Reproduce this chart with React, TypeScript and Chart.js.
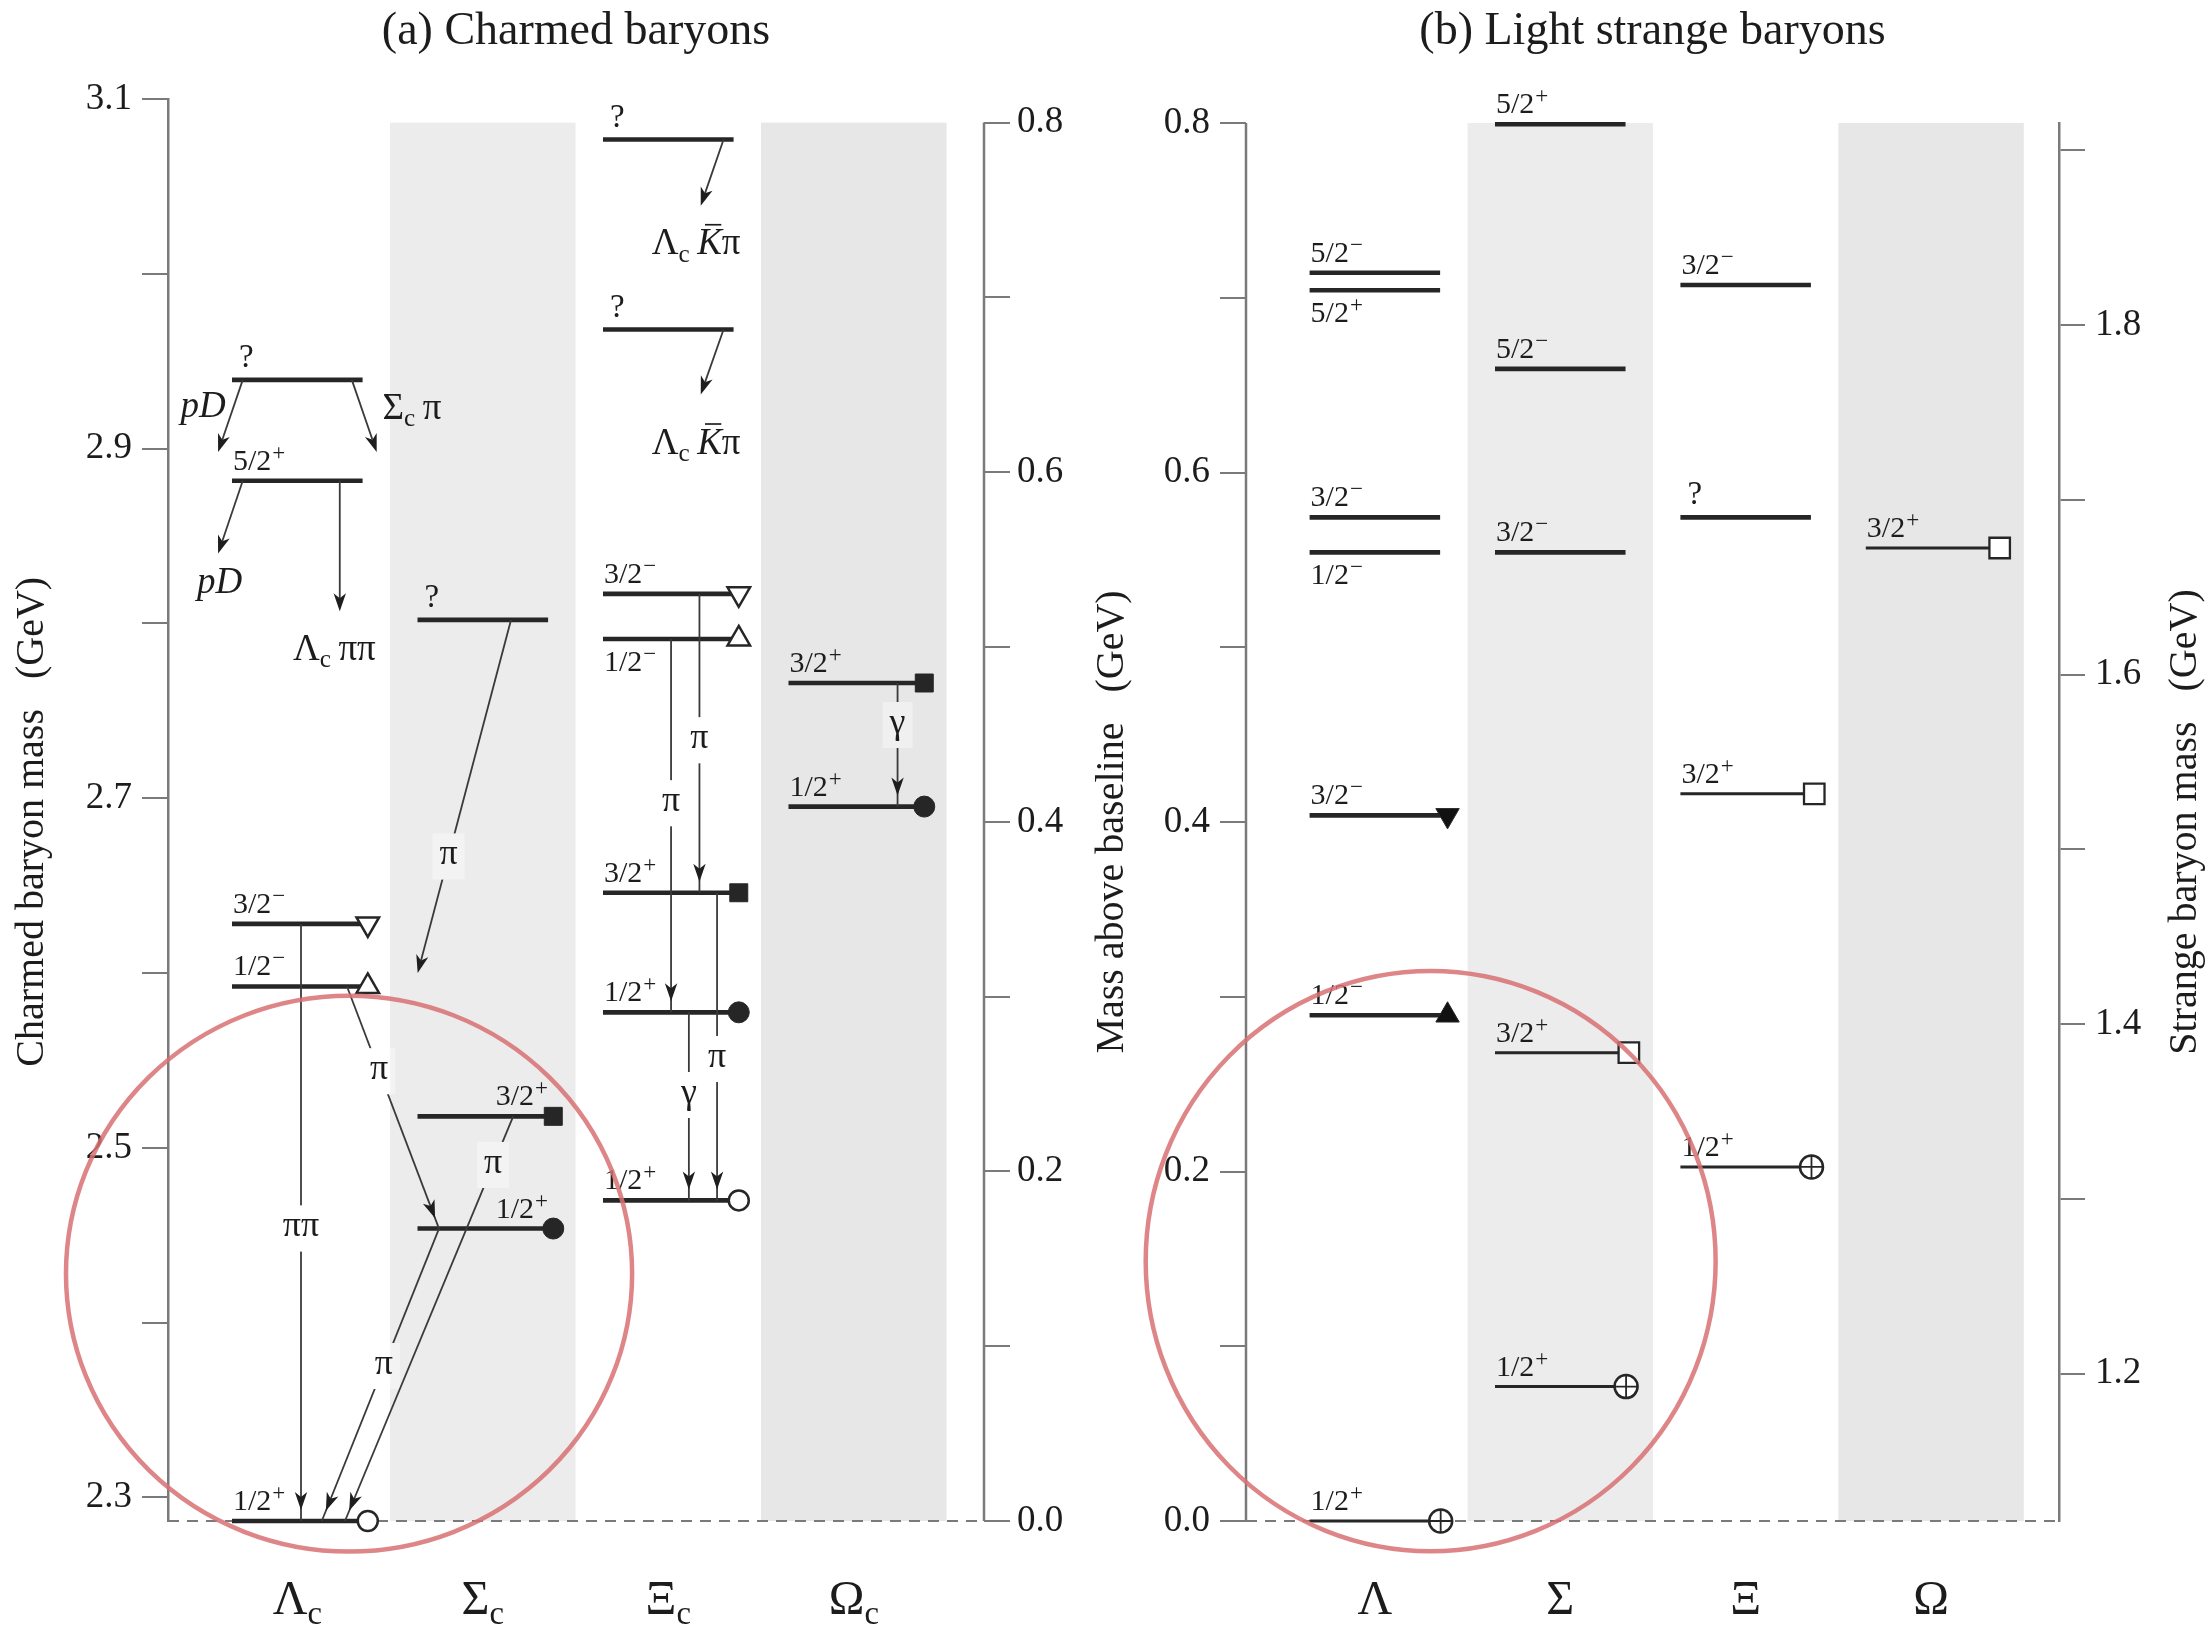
import React, { useEffect, useRef } from 'react';
import { Chart, registerables } from 'chart.js';

Chart.register(...registerables);

/* ================= DATA ================= */

// shared "mass above baseline" axis
const aboveTicks = [0, 0.1, 0.2, 0.3, 0.4, 0.5, 0.6, 0.7, 0.8];
const aboveTickLabels = ['0.0', '', '0.2', '', '0.4', '', '0.6', '', '0.8'];
const aboveAxisTitle = 'Mass above baseline';

// (a) Charmed baryons
const charmTitle = '(a) Charmed baryons';
const charmAxisTitle = 'Charmed baryon mass';
const charmCategories = ['Λ_c', 'Σ_c', 'Ξ_c', 'Ω_c'];
const charmBaseline = 2.2865; // GeV (Λc)
const charmMassTop = 3.1;
const charmMassTicks = [2.3, 2.4, 2.5, 2.6, 2.7, 2.8, 2.9, 3.0, 3.1];
const charmMassTickLabels = ['2.3', '', '2.5', '', '2.7', '', '2.9', '', '3.1'];

const charmLevelColumn = [0, 0, 0, 0, 0, 1, 1, 1, 2, 2, 2, 2, 2, 2, 2, 3, 3];
const charmLevelMass = [2.2865, 2.5923, 2.6281, 2.8816, 2.9393, 2.4538, 2.518, 2.802, 2.4699, 2.5775, 2.6459, 2.7911, 2.8169, 2.9681, 3.0768, 2.6952, 2.7659];
const charmLevelJP = ['1/2+', '1/2−', '3/2−', '5/2+', '?', '1/2+', '3/2+', '?', '1/2+', '1/2+', '3/2+', '1/2−', '3/2−', '?', '?', '1/2+', '3/2+'];
const charmLevelMarker = ['openCircle', 'openTriUp', 'openTriDown', '', '', 'filledCircle', 'filledSquare', '', 'openCircle', 'filledCircle', 'filledSquare', 'openTriUp', 'openTriDown', '', '', 'filledCircle', 'filledSquare'];

// decays: [column units, GeV]
const charmDecayFrom = [[0.206, 2.9393], [0.794, 2.9393], [0.206, 2.8816], [0.729, 2.8816], [2.798, 3.0768], [2.798, 2.9681], [1.652, 2.802], [0.52, 2.6281], [0.768, 2.5923], [1.264, 2.4538], [1.664, 2.518], [2.668, 2.8169], [2.515, 2.7911], [2.763, 2.6459], [2.611, 2.5775], [3.736, 2.7659]];
const charmDecayTo = [[0.073, 2.898], [0.928, 2.898], [0.073, 2.84], [0.729, 2.807], [2.675, 3.039], [2.675, 2.931], [1.149, 2.6], [0.52, 2.2865], [1.264, 2.4538], [0.632, 2.2865], [0.757, 2.2865], [2.668, 2.6459], [2.515, 2.5775], [2.763, 2.4699], [2.611, 2.4699], [3.736, 2.6952]];
const charmDecayLabel = ['', '', '', '', '', '', 'π', 'ππ', 'π', 'π', 'π', 'π', 'π', 'π', 'γ', 'γ'];
const charmDecayLabelPos = [0, 0, 0, 0, 0, 0, 0.67, 0.51, 0.35, 0.47, 0.12, 0.49, 0.44, 0.54, 0.44, 0.34];
const charmProductText = ['*pD*', 'Σ_c π', '*pD*', 'Λ_c ππ', 'Λ_c ‾Kπ', 'Λ_c ‾Kπ'];
const charmProductAt = [[-0.008, 2.925], [1.118, 2.924], [0.081, 2.824], [0.7, 2.786], [2.65, 3.018], [2.65, 2.904]];
const charmHighlightCenter = [0.779, 2.428];
const charmHighlightRadius = [1.526, 0.159];

// (b) Light strange baryons
const strangeTitle = '(b) Light strange baryons';
const strangeAxisTitle = 'Strange baryon mass';
const strangeCategories = ['Λ', 'Σ', 'Ξ', 'Ω'];
const strangeBaseline = 1.1157; // GeV (Λ)
const strangeMassTicks = [1.2, 1.3, 1.4, 1.5, 1.6, 1.7, 1.8, 1.9];
const strangeMassTickLabels = ['1.2', '', '1.4', '', '1.6', '', '1.8', ''];

const strangeLevelColumn = [0, 0, 0, 0, 0, 0, 0, 1, 1, 1, 1, 1, 2, 2, 2, 2, 3];
const strangeLevelMass = [1.1157, 1.4051, 1.5195, 1.67, 1.69, 1.82, 1.83, 1.1926, 1.3837, 1.67, 1.775, 1.915, 1.3183, 1.5318, 1.69, 1.823, 1.6725];
const strangeLevelJP = ['1/2+', '1/2−', '3/2−', '1/2−', '3/2−', '5/2+', '5/2−', '1/2+', '3/2+', '3/2−', '5/2−', '5/2+', '1/2+', '3/2+', '?', '3/2−', '3/2+'];
const strangeLevelMarker = ['crossCircle', 'filledTriUp', 'filledTriDown', '', '', '', '', 'crossCircle', 'openSquare', '', '', '', 'crossCircle', 'openSquare', '', '', 'openSquare'];
const strangeHighlightCenter = [0.801, 1.2644];
const strangeHighlightRadius = [1.537, 0.166];

/* ================= STYLE / LAYOUT ================= */

const SERIF = "'Liberation Serif', 'Times New Roman', Times, serif";
const TEXT = '#1c1c1c';
const AXIS = '#7a7a7a';
const LEVEL = '#262626';
const ARROW = '#3a3a3a';
const BAND_COLORS = ['#ececec', '#e7e7e7'];
const BAND_COLUMNS = [1, 3];
const LINE_START = 0.148;
const LINE_END = 0.852;
const CAT_BASELINE = 1614;
const TITLE_BASELINE = 44;

const MARKER_OFFSET: any = {
  openCircle: 0.88, filledCircle: 0.88, filledSquare: 0.88, openTriUp: 0.88, openTriDown: 0.88,
  filledTriUp: 0.892, filledTriDown: 0.892, openSquare: 0.87, crossCircle: 0.855,
};
const THIN_LEVEL = ['openSquare', 'crossCircle'];
const MARKER_STYLES: any = {
  openCircle: [{ style: 'circle', r: 10, bg: '#ffffff', bw: 2.5, rot: 0 }],
  filledCircle: [{ style: 'circle', r: 10.5, bg: LEVEL, bw: 1, rot: 0 }],
  filledSquare: [{ style: 'rect', r: 12.7, bg: LEVEL, bw: 1, rot: 0 }],
  openTriUp: [{ style: 'triangle', r: 13, bg: '#ffffff', bw: 2.5, rot: 0 }],
  openTriDown: [{ style: 'triangle', r: 13, bg: '#ffffff', bw: 2.5, rot: 180 }],
  filledTriUp: [{ style: 'triangle', r: 13.5, bg: '#111111', bw: 1, rot: 0 }],
  filledTriDown: [{ style: 'triangle', r: 13.5, bg: '#111111', bw: 1, rot: 180 }],
  openSquare: [{ style: 'rect', r: 14.5, bg: '#ffffff', bw: 2.3, rot: 0 }],
  crossCircle: [
    { style: 'circle', r: 11.5, bg: '#ffffff', bw: 2.5, rot: 0 },
    { style: 'cross', r: 11.5, bg: '#ffffff', bw: 1.8, rot: 0 },
  ],
};

const fontStr = (size: number, italic = false) => `${italic ? 'italic ' : ''}${size}px ${SERIF}`;

/* ================= TEXT HELPERS ================= */

function parseRich(s: string) {
  const runs: any[] = [];
  let italic = false;
  for (let i = 0; i < s.length; i++) {
    const ch = s[i];
    if (ch === '*') { italic = !italic; continue; }
    if (ch === '_') { runs.push({ t: s[++i], it: italic, sub: true }); continue; }
    if (ch === '‾') { runs.push({ t: s[++i], it: true, bar: true }); continue; }
    if (ch === ' ') { runs.push({ t: ' ', space: true }); continue; }
    runs.push({ t: ch, it: italic });
  }
  return runs;
}

function drawRich(ctx: CanvasRenderingContext2D, markup: string, x: number, baseline: number, size: number, align: string) {
  const runs = parseRich(markup);
  const subSize = size * 0.68;
  let total = 0;
  const widths = runs.map((r) => {
    let w = 0;
    if (r.space) w = size * 0.2;
    else { ctx.font = fontStr(r.sub ? subSize : size, r.it); w = ctx.measureText(r.t).width; }
    total += w;
    return w;
  });
  let cx = align === 'center' ? x - total / 2 : align === 'right' ? x - total : x;
  ctx.textAlign = 'left';
  ctx.textBaseline = 'alphabetic';
  ctx.fillStyle = TEXT;
  runs.forEach((r, k) => {
    if (!r.space) {
      ctx.font = fontStr(r.sub ? subSize : size, r.it);
      const by = r.sub ? baseline + size * 0.2 : baseline;
      ctx.fillText(r.t, cx, by);
      if (r.bar) {
        ctx.strokeStyle = TEXT;
        ctx.lineWidth = Math.max(1.5, size * 0.045);
        const yb = baseline - size * 0.8;
        ctx.beginPath();
        ctx.moveTo(cx + widths[k] * 0.32, yb);
        ctx.lineTo(cx + widths[k] * 0.98, yb);
        ctx.stroke();
      }
    }
    cx += widths[k];
  });
}

function drawJP(ctx: CanvasRenderingContext2D, jp: string, x: number, yLine: number, align: string, below: boolean) {
  const size = 30;
  const supSize = 23;
  ctx.textAlign = 'left';
  ctx.textBaseline = 'alphabetic';
  ctx.fillStyle = TEXT;
  if (jp === '?') {
    ctx.font = fontStr(33);
    const w = ctx.measureText('?').width;
    const x0 = align === 'left' ? x + 7 : x - w;
    ctx.fillText('?', x0, below ? yLine + 34 : yLine - 13);
    return;
  }
  let main = jp;
  let sign = '';
  const last = jp.slice(-1);
  if (last === '+' || last === '−') { main = jp.slice(0, -1); sign = last; }
  ctx.font = fontStr(size);
  const w1 = ctx.measureText(main).width;
  ctx.font = fontStr(supSize);
  const w2 = sign ? ctx.measureText(sign).width + 1 : 0;
  const x0 = align === 'left' ? x + 1 : x - (w1 + w2);
  const baseline = below ? yLine + 32 : yLine - 11;
  ctx.font = fontStr(size);
  ctx.fillText(main, x0, baseline);
  if (sign) {
    ctx.font = fontStr(supSize);
    ctx.fillText(sign, x0 + w1 + 1, baseline - 10);
  }
}

/* ================= PANEL BUILDER ================= */

function decoPlugin(s: any) {
  return {
    id: 'panelDeco',
    beforeDatasetsDraw(chart: any) {
      const { ctx, chartArea: a } = chart;
      const xs = chart.scales.x;
      const ya = chart.scales.yAbove;
      ctx.save();
      BAND_COLUMNS.forEach((c, k) => {
        const x0 = xs.getPixelForValue(c);
        const x1 = xs.getPixelForValue(c + 1);
        const yT = ya.getPixelForValue(0.8);
        const yB = ya.getPixelForValue(0);
        ctx.fillStyle = BAND_COLORS[k];
        ctx.fillRect(x0, yT, x1 - x0, yB - yT);
      });
      const yb = ya.getPixelForValue(0);
      ctx.strokeStyle = AXIS;
      ctx.lineWidth = 2.2;
      ctx.setLineDash([11, 8]);
      ctx.beginPath();
      ctx.moveTo(a.left, yb);
      ctx.lineTo(a.right, yb);
      ctx.stroke();
      ctx.setLineDash([]);
      const xa = s.massSide === 'left' ? a.right : a.left;
      ctx.lineWidth = 2.5;
      ctx.beginPath();
      ctx.moveTo(xa, ya.getPixelForValue(0));
      ctx.lineTo(xa, ya.getPixelForValue(0.8));
      ctx.stroke();
      ctx.restore();
    },
    afterDatasetsDraw(chart: any) {
      const { ctx, chartArea: a } = chart;
      const xs = chart.scales.x;
      const ym = chart.scales.yMass;
      const ya = chart.scales.yAbove;
      ctx.save();

      // decay arrows
      (s.decayFrom || []).forEach((f: number[], i: number) => {
        const t = s.decayTo[i];
        const x0 = xs.getPixelForValue(f[0]);
        const y0 = ym.getPixelForValue(f[1]);
        const x1 = xs.getPixelForValue(t[0]);
        const y1 = ym.getPixelForValue(t[1]);
        const dx = x1 - x0;
        const dy = y1 - y0;
        const len = Math.hypot(dx, dy);
        const ux = dx / len;
        const uy = dy / len;
        const onLevel = s.levelMass.some((m: number) => Math.abs(m - t[1]) < 1e-4);
        const back = onLevel ? 11 : 0;
        const tipX = x1 - ux * back;
        const tipY = y1 - uy * back;
        const L = 18, W = 6.2, N = 5;
        const label = s.decayLabel[i];
        let box: any = null;
        if (label) {
          const p = s.decayLabelPos[i];
          const lx = x0 + dx * p;
          const ly = y0 + dy * p;
          ctx.font = fontStr(36);
          const w = ctx.measureText(label).width + 14;
          box = { x: lx - w / 2, y: ly - 23, w, h: 46, lx, ly };
        }
        ctx.save();
        if (box) {
          ctx.beginPath();
          ctx.rect(0, 0, chart.width, chart.height);
          ctx.rect(box.x, box.y, box.w, box.h);
          ctx.clip('evenodd');
        }
        ctx.strokeStyle = ARROW;
        ctx.lineWidth = 1.8;
        ctx.beginPath();
        ctx.moveTo(x0, y0);
        if (onLevel) ctx.lineTo(x1, y1);
        else ctx.lineTo(tipX - ux * (L - N), tipY - uy * (L - N));
        ctx.stroke();
        ctx.fillStyle = '#1e1e1e';
        ctx.beginPath();
        ctx.moveTo(tipX, tipY);
        ctx.lineTo(tipX - L * ux + W * uy, tipY - L * uy - W * ux);
        ctx.lineTo(tipX - (L - N) * ux, tipY - (L - N) * uy);
        ctx.lineTo(tipX - L * ux - W * uy, tipY - L * uy + W * ux);
        ctx.closePath();
        ctx.fill();
        ctx.restore();
        if (box) {
          ctx.fillStyle = 'rgba(255,255,255,0.4)';
          ctx.fillRect(box.x, box.y, box.w, box.h);
          ctx.fillStyle = TEXT;
          ctx.font = fontStr(36);
          ctx.textAlign = 'center';
          ctx.textBaseline = 'alphabetic';
          ctx.fillText(label, box.lx, box.ly + 8);
        }
      });

      // J^P labels
      s.levelMass.forEach((m: number, i: number) => {
        const col = s.levelColumn[i];
        const y = ym.getPixelForValue(m);
        const right = s.labelRight.includes(i);
        const below = s.labelBelow.includes(i);
        const x = right ? xs.getPixelForValue(col + LINE_END) : xs.getPixelForValue(col + LINE_START);
        drawJP(ctx, s.levelJP[i], x, y, right ? 'right' : 'left', below);
      });

      // decay products
      (s.productText || []).forEach((txt: string, i: number) => {
        const p = s.productAt[i];
        drawRich(ctx, txt, xs.getPixelForValue(p[0]), ym.getPixelForValue(p[1]) + 12, 37, 'center');
      });

      // category labels
      s.categories.forEach((c: string, i: number) => {
        drawRich(ctx, c, xs.getPixelForValue(i + 0.5), CAT_BASELINE, 48, 'center');
      });

      // title
      ctx.fillStyle = TEXT;
      ctx.font = fontStr(46);
      ctx.textAlign = 'center';
      ctx.textBaseline = 'alphabetic';
      ctx.fillText(s.title, (a.left + a.right) / 2, TITLE_BASELINE);

      // axis titles
      const yMid = ya.getPixelForValue(0.4);
      const drawRot = (text: string, x: number) => {
        ctx.save();
        ctx.translate(x, yMid);
        ctx.rotate(-Math.PI / 2);
        ctx.font = fontStr(40);
        ctx.fillStyle = TEXT;
        ctx.textAlign = 'center';
        ctx.textBaseline = 'middle';
        ctx.fillText(text + '   (GeV)', 0, 0);
        ctx.restore();
      };
      drawRot(s.massTitle, s.massTitleX);
      if (s.aboveTitle) drawRot(s.aboveTitle, s.aboveTitleX);

      // hand-drawn highlight ellipse
      const c = s.highlightCenter;
      const r = s.highlightRadius;
      const cx = xs.getPixelForValue(c[0]);
      const cy = ym.getPixelForValue(c[1]);
      const rx = Math.abs(xs.getPixelForValue(c[0] + r[0]) - cx);
      const ry = Math.abs(ym.getPixelForValue(c[1] + r[1]) - cy);
      ctx.strokeStyle = 'rgba(216,112,114,0.85)';
      ctx.lineWidth = 4.5;
      ctx.beginPath();
      ctx.ellipse(cx, cy, rx, ry, 0, 0, Math.PI * 2);
      ctx.stroke();

      ctx.restore();
    },
  };
}

function buildPanel(canvas: HTMLCanvasElement, s: any) {
  const datasets: any[] = [];
  s.levelMass.forEach((m: number, i: number) => {
    const col = s.levelColumn[i];
    const mk = s.levelMarker[i];
    const x0 = col + LINE_START;
    const x1 = mk ? col + MARKER_OFFSET[mk] : col + LINE_END;
    datasets.push({
      data: [{ x: x0, y: m }, { x: x1, y: m }],
      borderColor: LEVEL,
      borderWidth: THIN_LEVEL.includes(mk) ? 3 : 4.6,
      borderCapStyle: 'butt',
      pointRadius: 0,
      fill: false,
      tension: 0,
      yAxisID: 'yMass',
      xAxisID: 'x',
      clip: false,
      order: 5,
    });
  });
  const types = Array.from(new Set(s.levelMarker.filter((t: string) => !!t))) as string[];
  types.forEach((t) => {
    const pts = s.levelMass
      .map((m: number, i: number) => (s.levelMarker[i] === t ? { x: s.levelColumn[i] + MARKER_OFFSET[t], y: m } : null))
      .filter((p: any) => p);
    MARKER_STYLES[t].forEach((st: any, k: number) => {
      datasets.push({
        data: pts,
        showLine: false,
        yAxisID: 'yMass',
        xAxisID: 'x',
        clip: false,
        order: 2 - k,
        pointStyle: st.style,
        pointRadius: st.r,
        pointHoverRadius: st.r,
        pointBackgroundColor: st.bg,
        pointBorderColor: LEVEL,
        pointBorderWidth: st.bw,
        pointRotation: st.rot,
      });
    });
  });

  const tickFont = { family: SERIF, size: 37 };
  const massScale = {
    type: 'linear',
    position: s.massSide,
    min: s.baseline,
    max: s.massTop,
    afterBuildTicks: (ax: any) => { ax.ticks = s.massTicks.map((v: number) => ({ value: v })); },
    afterFit: (ax: any) => { ax.width = s.massSide === 'left' ? s.area.left : s.canvasWidth - s.area.right; },
    ticks: { callback: (_v: any, i: number) => s.massTickLabels[i], font: tickFont, color: TEXT, padding: 10, autoSkip: false, maxRotation: 0 },
    grid: { drawOnChartArea: false, drawTicks: true, tickLength: 26, color: AXIS, lineWidth: 2 },
    border: { display: true, color: AXIS, width: 2.5 },
  };
  const aboveSide = s.massSide === 'left' ? 'right' : 'left';
  const aboveScale = {
    type: 'linear',
    position: aboveSide,
    min: 0,
    max: s.massTop - s.baseline,
    afterBuildTicks: (ax: any) => { ax.ticks = aboveTicks.map((v) => ({ value: v })); },
    afterFit: (ax: any) => { ax.width = aboveSide === 'left' ? s.area.left : s.canvasWidth - s.area.right; },
    ticks: { callback: (_v: any, i: number) => aboveTickLabels[i], font: tickFont, color: TEXT, padding: aboveSide === 'left' ? 10 : 7, autoSkip: false, maxRotation: 0 },
    grid: { drawOnChartArea: false, drawTicks: true, tickLength: 26, color: AXIS, lineWidth: 2 },
    border: { display: false },
  };

  return new Chart(canvas, {
    type: 'line',
    data: { datasets },
    options: {
      responsive: false,
      maintainAspectRatio: false,
      animation: false,
      devicePixelRatio: 1,
      events: [],
      layout: { padding: { left: 0, right: 0, top: s.area.top, bottom: s.canvasHeight - s.area.bottom } },
      plugins: { legend: { display: false }, tooltip: { enabled: false }, title: { display: false } },
      scales: {
        x: { type: 'linear', min: s.xRange[0], max: s.xRange[1], display: false },
        yMass: massScale,
        yAbove: aboveScale,
      },
    } as any,
    plugins: [decoPlugin(s)],
  } as any);
}

const charmSpec = {
  canvasWidth: 1080,
  canvasHeight: 1626,
  area: { left: 168, right: 984, top: 99, bottom: 1521 },
  xRange: [-0.197, 4.202],
  massSide: 'left',
  baseline: charmBaseline,
  massTop: charmMassTop,
  massTicks: charmMassTicks,
  massTickLabels: charmMassTickLabels,
  title: charmTitle,
  categories: charmCategories,
  massTitle: charmAxisTitle,
  massTitleX: 32,
  aboveTitle: null,
  aboveTitleX: 0,
  levelColumn: charmLevelColumn,
  levelMass: charmLevelMass,
  levelJP: charmLevelJP,
  levelMarker: charmLevelMarker,
  labelBelow: [11],
  labelRight: [5, 6],
  decayFrom: charmDecayFrom,
  decayTo: charmDecayTo,
  decayLabel: charmDecayLabel,
  decayLabelPos: charmDecayLabelPos,
  productText: charmProductText,
  productAt: charmProductAt,
  highlightCenter: charmHighlightCenter,
  highlightRadius: charmHighlightRadius,
};

const strangeSpec = {
  canvasWidth: 1131,
  canvasHeight: 1626,
  area: { left: 166, right: 979, top: 123, bottom: 1521 },
  xRange: [-0.195, 4.19],
  massSide: 'right',
  baseline: strangeBaseline,
  massTop: strangeBaseline + 0.8,
  massTicks: strangeMassTicks,
  massTickLabels: strangeMassTickLabels,
  title: strangeTitle,
  categories: strangeCategories,
  massTitle: strangeAxisTitle,
  massTitleX: 1105,
  aboveTitle: aboveAxisTitle,
  aboveTitleX: 32,
  levelColumn: strangeLevelColumn,
  levelMass: strangeLevelMass,
  levelJP: strangeLevelJP,
  levelMarker: strangeLevelMarker,
  labelBelow: [3, 5],
  labelRight: [],
  decayFrom: [],
  decayTo: [],
  decayLabel: [],
  decayLabelPos: [],
  productText: [],
  productAt: [],
  highlightCenter: strangeHighlightCenter,
  highlightRadius: strangeHighlightRadius,
};

export default function App() {
  const leftRef = useRef<HTMLCanvasElement>(null);
  const rightRef = useRef<HTMLCanvasElement>(null);
  useEffect(() => {
    const c1 = buildPanel(leftRef.current as HTMLCanvasElement, charmSpec);
    const c2 = buildPanel(rightRef.current as HTMLCanvasElement, strangeSpec);
    return () => {
      c1.destroy();
      c2.destroy();
    };
  }, []);
  return (
    <div style={{ position: 'absolute', left: 0, top: 0, width: 2211, height: 1626, background: '#ffffff', overflow: 'hidden' }}>
      <canvas ref={leftRef} width={1080} height={1626} style={{ position: 'absolute', left: 0, top: 0, width: 1080, height: 1626 }} />
      <canvas ref={rightRef} width={1131} height={1626} style={{ position: 'absolute', left: 1080, top: 0, width: 1131, height: 1626 }} />
    </div>
  );
}
